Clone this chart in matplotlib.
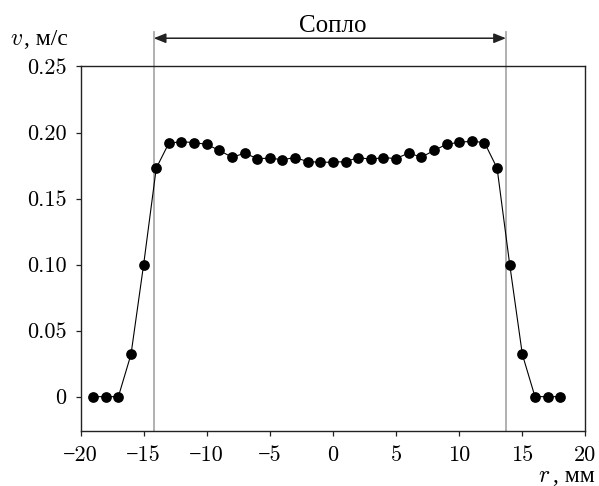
import matplotlib
matplotlib.use("Agg")
import matplotlib.pyplot as plt

plt.rcParams["font.family"] = ["cmr10", "Liberation Serif"]
plt.rcParams["mathtext.fontset"] = "cm"

# measured velocity profile across the jet
r_mm = list(range(-19, 19))
v_ms = [0, 0, 0, 0.032, 0.100, 0.173, 0.192, 0.193, 0.1924, 0.191,
        0.1864, 0.1813, 0.1843, 0.1803, 0.1805, 0.1795, 0.181, 0.178, 0.1775, 0.1775,
        0.178, 0.181, 0.1798, 0.181, 0.1803, 0.1845, 0.1813, 0.1864, 0.1911, 0.1926,
        0.1934, 0.1924, 0.173, 0.100, 0.032, 0, 0, 0]

nozzle_edges = [-14.2, 13.7]

xticks = [-20, -15, -10, -5, 0, 5, 10, 15, 20]
xtick_labels = ["\u221220", "\u221215", "\u221210", "\u22125", "0", "5", "10", "15", "20"]
yticks = [0, 0.05, 0.10, 0.15, 0.20, 0.25]
ytick_labels = ["0", "0.05", "0.10", "0.15", "0.20", "0.25"]

W, H = 599, 486
fig = plt.figure(figsize=(W / 100, H / 100), dpi=100)
ax = fig.add_axes([0.1344, 0.1132, 0.843, 0.75])

ax.plot(r_mm, v_ms, "-o", color="black", lw=0.8, ms=6.7, zorder=3)

ax.set_xlim(-20, 20)
ax.set_ylim(-0.026, 0.25)

# nozzle boundaries, extended above the frame
for xe in nozzle_edges:
    ax.plot([xe, xe], [-0.026, 0.2764], color="#aaaaaa", lw=1.3, clip_on=False, zorder=1)

ax.annotate("", xy=(nozzle_edges[0], 0.2714), xytext=(nozzle_edges[1], 0.2714),
            arrowprops=dict(arrowstyle="<|-|>,head_length=0.72,head_width=0.29",
                            color="#222222", lw=1.1,
                            shrinkA=0, shrinkB=0, mutation_scale=10),
            annotation_clip=False)
ax.text(0.0, 0.2761, "Сопло", ha="center", va="baseline", fontsize=18,
        family="Liberation Serif")

ax.set_xticks(xticks)
ax.set_xticklabels(xtick_labels, fontsize=16)
ax.set_yticks(yticks)
ax.set_yticklabels(ytick_labels, fontsize=16)
ax.tick_params(direction="out", length=3.6, width=0.9, pad=6.5, color="#222222")

for s in ax.spines.values():
    s.set_linewidth(1.0)
    s.set_color("#222222")

# axis titles: italic symbol + cyrillic units as separate texts
fig.text(10 / W, 1 - 45 / H, "$v$", ha="left", va="baseline", fontsize=17)
fig.text(24 / W, 1 - 45 / H, ", м/с", ha="left", va="baseline", fontsize=17,
         family="Liberation Serif")
fig.text(538 / W, 1 - 482 / H, "$r$", ha="left", va="baseline", fontsize=17)
fig.text(595 / W, 1 - 482 / H, ", мм", ha="right", va="baseline", fontsize=17,
         family="Liberation Serif")

fig.savefig("out.png", dpi=100)
